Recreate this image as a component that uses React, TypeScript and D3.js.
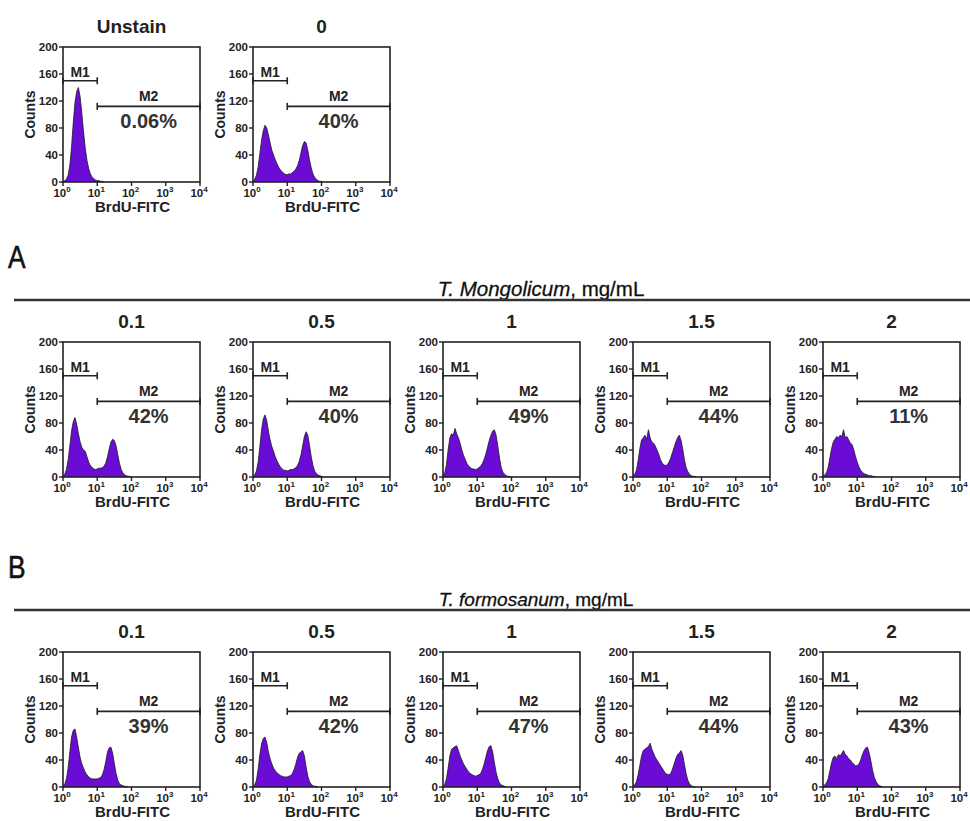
import React from 'react';
import * as d3 from 'd3';

// Histogram bins: log10(BrdU-FITC) from 0 in steps of 0.05 decade
const BIN_STEP = 0.05;

const unstainCounts = [1, 2, 4, 10, 25, 52, 88, 118, 134, 140, 126, 102, 74, 50, 32, 20, 12, 7, 5, 3, 2, 2, 1, 1, 0];
const zeroCounts = [1, 4, 10, 22, 42, 62, 76, 84, 80, 70, 58, 47, 40, 33, 27, 22, 18, 15, 13, 11, 11, 12, 12, 14, 16, 19, 24, 32, 43, 54, 60, 58, 47, 33, 21, 12, 7, 4, 2, 1, 1, 0];

const mongolicum01 = [1, 4, 11, 25, 46, 68, 82, 88, 78, 64, 52, 44, 40, 38, 30, 22, 17, 14, 12, 11, 12, 13, 13, 14, 16, 21, 30, 42, 52, 56, 54, 46, 33, 20, 11, 6, 3, 2, 1, 1, 0];
const mongolicum05 = [1, 3, 9, 22, 45, 70, 86, 92, 84, 68, 55, 45, 38, 30, 24, 19, 15, 12, 10, 10, 9, 10, 11, 11, 12, 14, 17, 23, 33, 46, 60, 67, 62, 47, 30, 17, 9, 5, 3, 2, 1, 0];
const mongolicum1 = [2, 6, 18, 40, 58, 64, 62, 72, 64, 58, 50, 40, 32, 26, 20, 16, 14, 12, 12, 11, 12, 14, 16, 20, 26, 34, 44, 54, 62, 68, 70, 62, 46, 28, 14, 7, 4, 2, 1, 1, 0];
const mongolicum15 = [1, 4, 10, 24, 42, 55, 58, 62, 56, 70, 58, 52, 50, 46, 40, 34, 26, 21, 18, 17, 18, 22, 28, 36, 44, 52, 58, 62, 55, 42, 26, 14, 8, 4, 2, 1, 1, 0];
const mongolicum2 = [2, 3, 6, 14, 28, 42, 52, 56, 60, 58, 62, 60, 70, 58, 60, 55, 50, 48, 40, 30, 22, 15, 10, 7, 5, 4, 3, 2, 2, 1, 1, 0];

const formosanum01 = [1, 4, 12, 28, 52, 74, 84, 86, 74, 58, 44, 34, 28, 22, 18, 15, 13, 12, 12, 12, 12, 13, 14, 18, 26, 38, 52, 58, 59, 50, 34, 20, 10, 5, 3, 2, 1, 1, 0];
const formosanum05 = [1, 3, 10, 26, 48, 64, 72, 74, 66, 52, 42, 34, 28, 24, 21, 19, 17, 16, 15, 15, 15, 16, 17, 20, 26, 34, 44, 50, 52, 54, 46, 30, 16, 8, 4, 2, 1, 1, 0];
const formosanum1 = [1, 4, 12, 28, 46, 56, 58, 60, 61, 54, 46, 40, 34, 30, 26, 22, 20, 18, 17, 16, 17, 18, 20, 26, 34, 44, 54, 60, 61, 52, 36, 22, 12, 6, 3, 2, 1, 0];
const formosanum15 = [1, 3, 8, 18, 32, 46, 54, 56, 58, 60, 65, 56, 50, 44, 40, 36, 32, 28, 24, 20, 19, 18, 20, 26, 34, 42, 48, 50, 54, 48, 34, 20, 10, 5, 2, 1, 0];
const formosanum2 = [1, 3, 6, 12, 24, 36, 44, 46, 42, 48, 46, 50, 54, 48, 46, 42, 40, 36, 34, 31, 32, 34, 40, 48, 54, 58, 59, 50, 38, 24, 14, 8, 4, 2, 1, 0];

const topTitles = ['Unstain', '0'];
const topPercents = ['0.06%', '40%'];
const topData = [unstainCounts, zeroCounts];

const concTitles = ['0.1', '0.5', '1', '1.5', '2'];
const mongolicumPercents = ['42%', '40%', '49%', '44%', '11%'];
const mongolicumData = [mongolicum01, mongolicum05, mongolicum1, mongolicum15, mongolicum2];
const formosanumPercents = ['39%', '42%', '47%', '44%', '43%'];
const formosanumData = [formosanum01, formosanum05, formosanum1, formosanum15, formosanum2];

const yTicks = [0, 40, 80, 120, 160, 200];
const xTicks = [1, 10, 100, 1000, 10000];
const xTickExps = ['0', '1', '2', '3', '4'];
const markerM1 = { from: 1, to: 10, y: 150 };
const markerM2 = { from: 10, to: 10000, y: 112 };

const FONT = '"Liberation Sans", Arial, Helvetica, sans-serif';
const PURPLE = '#6a0cd6';
const INK = '#222';

const PW = 137;
const PH = 135;
const COL_X = [63, 253, 443, 633, 823];
const ROW_Y = [47, 342, 652];

function Panel({ x0, y0, title, pct, counts }: { x0: number; y0: number; title: string; pct: string; counts: number[] }) {
  const xs = d3.scaleLog().domain([1, 10000]).range([0, PW]);
  const ys = d3.scaleLinear().domain([0, 200]).range([PH, 0]);
  const pts: [number, number][] = counts.map((c, i) => [Math.pow(10, i * BIN_STEP), c]);
  const area = d3
    .area<[number, number]>()
    .x((d) => xs(d[0]))
    .y0(PH)
    .y1((d) => ys(d[1]))
    .curve(d3.curveLinear);
  const line = d3
    .line<[number, number]>()
    .x((d) => xs(d[0]))
    .y((d) => ys(d[1]))
    .curve(d3.curveLinear);
  const mid = (xs(1) + xs(10000)) / 2;
  const m2c = xs(Math.sqrt(10 * 10000));
  const m1c = xs(Math.sqrt(10));
  const cap = 3.5;
  return (
    <g transform={`translate(${x0},${y0})`} fontFamily={FONT}>
      <text x={mid} y={-14} textAnchor="middle" fontSize={19} fontWeight="bold" fill={INK}>
        {title}
      </text>
      <path d={area(pts) || ''} fill={PURPLE} />
      <path d={line(pts) || ''} fill="none" stroke="#1a1a1a" strokeWidth={0.8} />
      <rect x={0} y={0} width={PW} height={PH} fill="none" stroke={INK} strokeWidth={1.6} />
      {yTicks.map((t) => (
        <g key={t}>
          <line x1={-4} x2={0} y1={ys(t)} y2={ys(t)} stroke={INK} strokeWidth={1.4} />
          <text x={-5} y={ys(t) + 4} textAnchor="end" fontSize={11.5} fontWeight="bold" fill={INK}>
            {t}
          </text>
        </g>
      ))}
      {xTicks.map((t, i) => (
        <g key={t}>
          <line x1={xs(t)} x2={xs(t)} y1={PH} y2={PH + 4} stroke={INK} strokeWidth={1.4} />
          <text x={xs(t) - 1} y={PH + 15} textAnchor="middle" fontSize={11.5} fontWeight="bold" fill={INK}>
            10
            <tspan fontSize={8} dy={-5}>
              {xTickExps[i]}
            </tspan>
          </text>
        </g>
      ))}
      <text x={mid + 1} y={PH + 30} textAnchor="middle" fontSize={15} fontWeight="bold" fill={INK}>
        BrdU-FITC
      </text>
      <text
        transform={`translate(${-28},${PH / 2}) rotate(-90)`}
        textAnchor="middle"
        fontSize={14}
        fontWeight="bold"
        fill={INK}
      >
        Counts
      </text>
      {[markerM1, markerM2].map((m, i) => (
        <g key={i}>
          <line x1={xs(m.from)} x2={xs(m.to)} y1={ys(m.y)} y2={ys(m.y)} stroke={INK} strokeWidth={1.6} />
          <line x1={xs(m.from)} x2={xs(m.from)} y1={ys(m.y) - cap} y2={ys(m.y) + cap} stroke={INK} strokeWidth={1.6} />
          <line x1={xs(m.to)} x2={xs(m.to)} y1={ys(m.y) - cap} y2={ys(m.y) + cap} stroke={INK} strokeWidth={1.6} />
        </g>
      ))}
      <text x={m1c} y={ys(markerM1.y) - 4} textAnchor="middle" fontSize={14} fontWeight="bold" fill={INK}>
        M1
      </text>
      <text x={m2c} y={ys(markerM2.y) - 5} textAnchor="middle" fontSize={14} fontWeight="bold" fill={INK}>
        M2
      </text>
      <text x={m2c} y={ys(markerM2.y) + 22} textAnchor="middle" fontSize={20} fontWeight="bold" fill="#333">
        {pct}
      </text>
    </g>
  );
}

export default function App() {
  return (
    <svg
      width={970}
      height={821}
      style={{ position: 'absolute', left: 0, top: 0, background: '#fff' }}
      fontFamily={FONT}
    >
      <rect x={0} y={0} width={970} height={821} fill="#fff" />
      {topTitles.map((t, i) => (
        <Panel key={'top' + i} x0={COL_X[i]} y0={ROW_Y[0]} title={t} pct={topPercents[i]} counts={topData[i]} />
      ))}

      <text x={8} y={268} fontSize={31} fill="#111" stroke="#111" strokeWidth={0.6} transform="translate(8,268) scale(0.85,1) translate(-8,-268)">
        A
      </text>
      <text x={541} y={296} textAnchor="middle" fontSize={20.5} fill="#111" stroke="#111" strokeWidth={0.3}>
        <tspan fontStyle="italic">T. Mongolicum</tspan>, mg/mL
      </text>
      <line x1={14} x2={970} y1={300} y2={300} stroke="#333" strokeWidth={2.4} />
      {concTitles.map((t, i) => (
        <Panel key={'a' + i} x0={COL_X[i]} y0={ROW_Y[1]} title={t} pct={mongolicumPercents[i]} counts={mongolicumData[i]} />
      ))}

      <text x={8} y={578} fontSize={31} fill="#111" stroke="#111" strokeWidth={0.6} transform="translate(8,578) scale(0.85,1) translate(-8,-578)">
        B
      </text>
      <text x={536} y={606} textAnchor="middle" fontSize={19} fill="#111" stroke="#111" strokeWidth={0.3}>
        <tspan fontStyle="italic">T. formosanum</tspan>, mg/mL
      </text>
      <line x1={14} x2={970} y1={610} y2={610} stroke="#333" strokeWidth={2.4} />
      {concTitles.map((t, i) => (
        <Panel key={'b' + i} x0={COL_X[i]} y0={ROW_Y[2]} title={t} pct={formosanumPercents[i]} counts={formosanumData[i]} />
      ))}
    </svg>
  );
}
